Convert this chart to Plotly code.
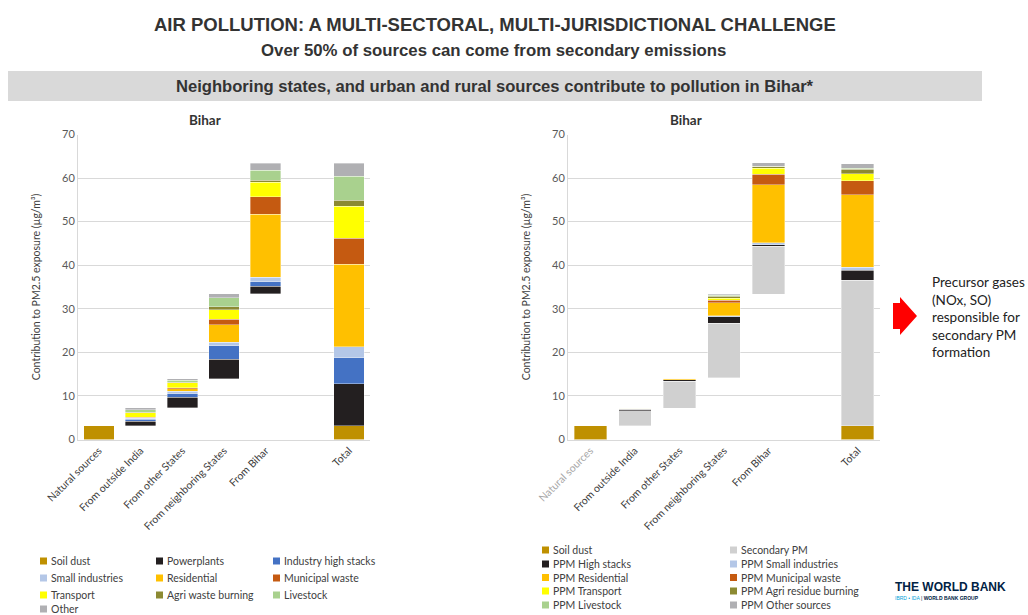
import plotly.graph_objects as go

# ---------------- data ----------------
categories = ["Natural sources", "From outside India", "From other States",
              "From neighboring States", "From Bihar", "Total"]

# Left chart: sector contributions (µg/m³) per category
left_series = ["Soil dust", "Powerplants", "Industry high stacks", "Small industries",
               "Residential", "Municipal waste", "Transport", "Agri waste burning",
               "Livestock", "Other"]
soil_dust = [3.2, 0, 0, 0, 0, 3.2]
powerplants = [0, 1.0, 2.4, 4.45, 1.75, 9.65]
industry_high_stacks = [0, 0.5, 0.9, 3.15, 1.05, 5.9]
small_industries = [0, 0.15, 0.5, 0.75, 1.05, 2.5]
residential = [0, 0.15, 0.6, 4.0, 14.4, 19.0]
municipal_waste = [0, 0.1, 0.25, 1.3, 4.05, 5.95]
transport = [0, 1.0, 1.1, 2.2, 3.3, 7.3]
agri_waste_burning = [0, 0.15, 0.15, 0.7, 0.55, 1.4]
livestock = [0, 0.6, 0.4, 2.05, 2.3, 5.5]
other = [0, 0.4, 0.4, 0.85, 1.5, 3.05]
left_values = [soil_dust, powerplants, industry_high_stacks, small_industries, residential,
               municipal_waste, transport, agri_waste_burning, livestock, other]
left_colors = ["#BF9000", "#231F20", "#4472C4", "#B4C7E7", "#FFC000", "#C55A11",
               "#FFFF00", "#8C8A32", "#A9D18E", "#B0B0B3"]

# Right chart: primary (PPM) vs secondary PM contributions (µg/m³)
right_series = ["Soil dust", "Secondary PM", "PPM High stacks", "PPM Small industries",
                "PPM Residential", "PPM Municipal waste", "PPM Transport",
                "PPM Agri residue burning", "PPM Livestock", "PPM Other sources"]
r_soil_dust = [3.2, 0, 0, 0, 0, 3.2]
r_secondary_pm = [0, 3.45, 6.2, 12.55, 11.0, 33.3]
r_high_stacks = [0, 0.25, 0.3, 1.5, 0.4, 2.4]
r_small_industries = [0, 0.03, 0.05, 0.23, 0.4, 0.65]
r_residential = [0, 0.15, 0.25, 3.0, 13.35, 16.6]
r_municipal_waste = [0, 0.02, 0.05, 0.6, 2.45, 3.2]
r_transport = [0, 0.02, 0.05, 0.4, 1.38, 1.7]
r_agri_residue = [0, 0.02, 0.02, 0.45, 0.38, 1.0]
r_livestock = [0, 0.01, 0.01, 0.2, 0.1, 0.2]
r_other_sources = [0, 0.02, 0.03, 0.25, 0.77, 1.0]
right_values = [r_soil_dust, r_secondary_pm, r_high_stacks, r_small_industries, r_residential,
                r_municipal_waste, r_transport, r_agri_residue, r_livestock, r_other_sources]
right_colors = ["#BF9000", "#D0D0D0", "#231F20", "#B4C7E7", "#FFC000", "#C55A11",
                "#FFFF00", "#8C8A32", "#A9D18E", "#B0B0B3"]

# ---------------- helpers ----------------
W, H = 1028, 615
FONT = "Lato, 'Open Sans', sans-serif"
HEAD = "'Liberation Sans', Arial, sans-serif"


def px(x):
    return x / W


def py(y):
    return 1 - y / H


def waterfall_base(values):
    totals = [sum(v[i] for v in values) for i in range(len(categories))]
    base, run = [], 0.0
    for i, c in enumerate(categories):
        if c == "Total":
            base.append(0.0)
        else:
            base.append(run)
            run += totals[i]
    return base


slots = categories[:-1] + [" "] + categories[-1:]

fig = go.Figure()


def add_chart(values, names, colors, xa, ya):
    base = waterfall_base(values)
    fig.add_trace(go.Bar(x=categories, y=base, marker=dict(color="rgba(0,0,0,0)", line=dict(width=0)),
                         showlegend=False, hoverinfo="skip", xaxis=xa, yaxis=ya))
    for vals, name, col in zip(values, names, colors):
        fig.add_trace(go.Bar(x=categories, y=[v if v else None for v in vals], name=name,
                             marker=dict(color=col, line=dict(color="rgba(255,255,255,0.6)", width=0.6)),
                             showlegend=False, xaxis=xa, yaxis=ya))


add_chart(left_values, left_series, left_colors, "x", "y")
add_chart(right_values, right_series, right_colors, "x2", "y2")

ydom = [py(439.5), py(134.5)]
ytitle = "Contribution to PM2.5 exposure (µg/m³)"
yax = dict(range=[0, 70], dtick=10, showgrid=True, gridcolor="#D9D9D9", gridwidth=1,
           showline=True, linecolor="#D9D9D9", linewidth=1, zeroline=False, ticks="",
           tickfont=dict(family=FONT, size=11, color="#595959"), automargin=False,
           title=dict(text=ytitle, font=dict(family=FONT, size=10.5, color="#404040"), standoff=19))
xax = dict(type="category", categoryorder="array", categoryarray=slots, range=[-0.5, 6.5],
           showline=True, linecolor="#D9D9D9", linewidth=1, ticks="", tickangle=-45,
           tickmode="array", tickvals=categories,
           tickfont=dict(family=FONT, size=10.5, color="#404040"), automargin=False, showgrid=False)

right_ticktext = ['<span style="color:#A6A6A6">' + categories[0] + '</span>'] + categories[1:]

fig.update_layout(
    width=W, height=H, autosize=False,
    margin=dict(l=0, r=0, t=0, b=0),
    paper_bgcolor="white", plot_bgcolor="white",
    barmode="stack", bargap=0.27,
    xaxis=dict(xax, domain=[px(78), px(370)], anchor="y", ticktext=categories),
    yaxis=dict(yax, domain=ydom, anchor="x"),
    xaxis2=dict(xax, domain=[px(568), px(880)], anchor="y2", ticktext=right_ticktext),
    yaxis2=dict(yax, domain=ydom, anchor="x2"),
    showlegend=False,
)

shapes = []
annotations = []


def note(text, x, y, size, family=FONT, color="#333333", xanchor="center", yanchor="middle", **kw):
    annotations.append(dict(text=text, x=px(x), y=py(y), xref="paper", yref="paper", showarrow=False,
                            xanchor=xanchor, yanchor=yanchor,
                            font=dict(family=family, size=size, color=color), **kw))


# header
shapes.append(dict(type="rect", xref="paper", yref="paper", x0=px(8), x1=px(982), y0=py(101), y1=py(71),
                   fillcolor="#D9D9D9", line=dict(width=0), layer="below"))
note("<b>AIR POLLUTION: A MULTI-SECTORAL, MULTI-JURISDICTIONAL CHALLENGE</b>", 495, 24, 18.5, HEAD)
note("<b>Over 50% of sources can come from secondary emissions</b>", 493, 51, 16.8, HEAD)
note("<b>Neighboring states, and urban and rural sources contribute to pollution in Bihar*</b>", 495, 86, 16.6, HEAD)

# chart titles
for cx in (205, 686):
    note("<b>Bihar</b>", cx, 120, 13.5)


# legends
def add_legend(names, colors, ncols, col_x, row_y, size=7):
    for i, (n, c) in enumerate(zip(names, colors)):
        r, k = divmod(i, ncols)
        x0, yc = col_x[k], row_y[r]
        shapes.append(dict(type="rect", xref="paper", yref="paper", x0=px(x0), x1=px(x0 + size),
                           y0=py(yc + size / 2), y1=py(yc - size / 2), fillcolor=c, line=dict(width=0)))
        note(n, x0 + size + 1.5, yc, 10.5, color="#404040", xanchor="left")


add_legend(left_series, left_colors, 3, [40, 156, 273], [561, 578, 595, 609])
add_legend(right_series, right_colors, 2, [542, 730], [550, 564, 577.5, 591, 605])

# arrow + note
pts = [(893, 303), (900, 303), (900, 297), (917, 316), (900, 335), (900, 329), (893, 329)]
path = "M " + " L ".join(f"{px(a):.5f},{py(b):.5f}" for a, b in pts) + " Z"
shapes.append(dict(type="path", xref="paper", yref="paper", path=path, fillcolor="#FF0000", line=dict(width=0)))
note("Precursor gases<br>(NOx, SO)<br>responsible for<br>secondary PM<br>formation", 930, 272, 13.5,
     color="#222222", xanchor="left", yanchor="top", align="left")

# logo
note("<b>THE WORLD BANK</b>", 893, 587, 12, "'Liberation Sans', Arial, sans-serif", "#002244", xanchor="left")
note('<span style="color:#009FDA">IBRD • IDA</span> | <b>WORLD BANK GROUP</b>', 893, 598, 5,
     "'Liberation Sans', Arial, sans-serif", "#002244", xanchor="left")

fig.update_layout(shapes=shapes, annotations=annotations)

fig.write_html("out.html", config={"displayModeBar": False},
               post_script="document.body.style.margin='0px';")
